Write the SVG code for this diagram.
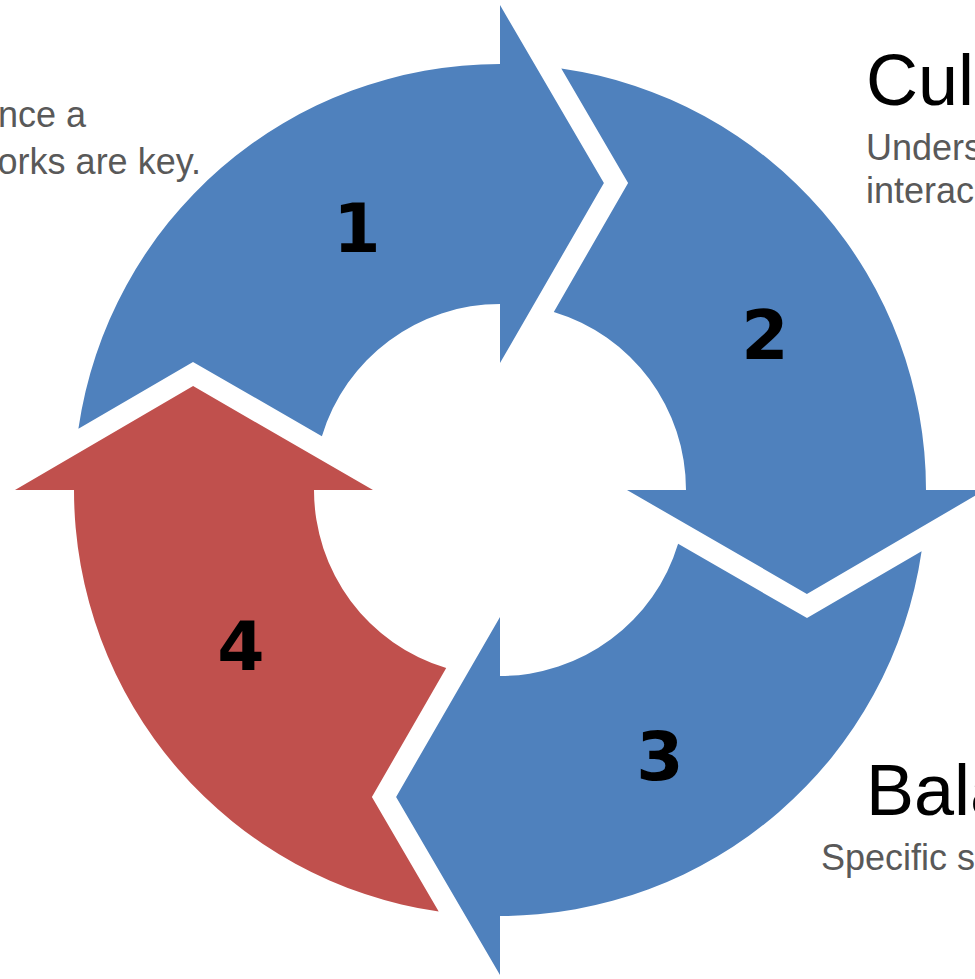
<svg xmlns="http://www.w3.org/2000/svg" width="975" height="979" viewBox="0 0 975 979">
  <style>
    .seg-blue { fill: #4F81BD; }
    .seg-red { fill: #C0504D; }
    .num { font-family: "DejaVu Sans", "Liberation Sans", sans-serif; font-weight: bold; font-size: 68px; fill: #000000; text-anchor: middle; }
    .title { font-family: "Liberation Sans", Arial, sans-serif; font-size: 72px; fill: #000000; }
    .desc { font-family: "Liberation Sans", Arial, sans-serif; font-size: 36px; fill: #595959; }
  </style>
  <defs>
    <!-- One curved arrow of the cycle; the others are rotated copies about the centre (500,490) -->
    <path id="arrowSeg" d="M 78.4 428.7 A 426 426 0 0 1 500 64 L 500 5 L 603.9 183.1 L 500 363 L 500 304 A 186 186 0 0 0 321.9 436.2 L 193.0 361.9 Z"/>
  </defs>

  <rect width="975" height="979" fill="#FFFFFF"/>

  <!-- Side captions -->
  <g id="captions">
    <text class="desc" x="86" y="127" text-anchor="end">nce a</text>
    <text class="desc" x="201" y="174" text-anchor="end">orks are key.</text>
    <text class="title" x="866" y="105">Cult</text>
    <text class="desc" x="866" y="160">Unders</text>
    <text class="desc" x="866" y="203">interac</text>
    <text class="title" x="866" y="815">Bala</text>
    <text class="desc" x="821" y="870">Specific s</text>
  </g>

  <g id="step1">
    <use href="#arrowSeg" class="seg-blue"/>
    <text class="num" x="357" y="252">1</text>
  </g>
  <g id="step2">
    <use href="#arrowSeg" class="seg-blue" transform="rotate(90 500 490)"/>
    <text class="num" x="765" y="359">2</text>
  </g>
  <g id="step3">
    <use href="#arrowSeg" class="seg-blue" transform="rotate(180 500 490)"/>
    <text class="num" x="660" y="780">3</text>
  </g>
  <g id="step4">
    <use href="#arrowSeg" class="seg-red" transform="rotate(270 500 490)"/>
    <text class="num" x="241" y="670">4</text>
  </g>
</svg>
